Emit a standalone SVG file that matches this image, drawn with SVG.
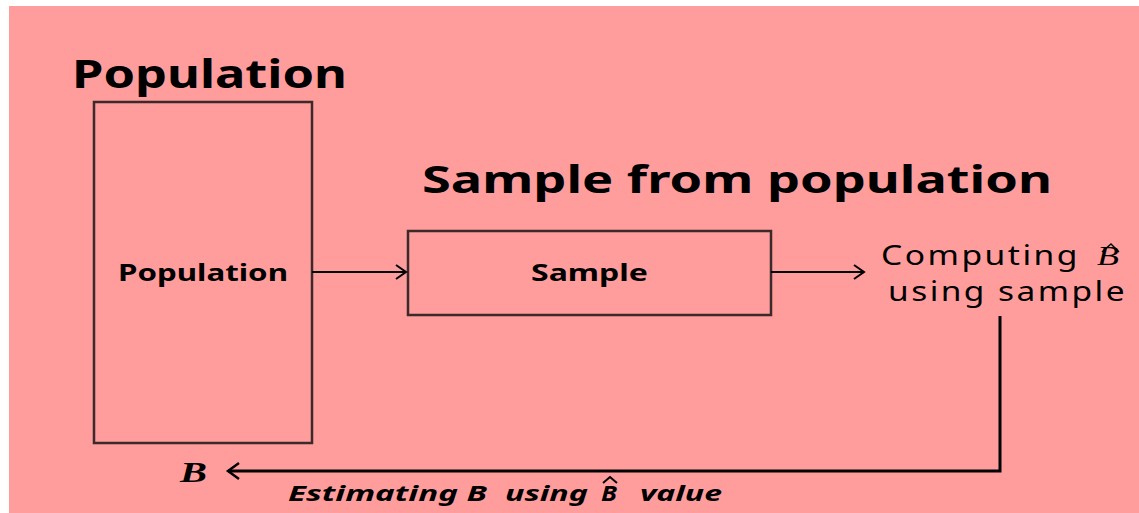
<svg xmlns="http://www.w3.org/2000/svg" width="1139" height="513" viewBox="0 0 1139 513">
<style>
.box{fill:none;stroke:#3a2a2a;stroke-width:2.5}
.t{font-family:"Noto Sans","Open Sans","Liberation Sans",sans-serif;fill:#000}
.b{font-weight:bold}
.ln{stroke:#000;fill:none}
.hat{fill:none;stroke:#000}
</style>
<defs>
<marker id="ah" markerWidth="14" markerHeight="18" refX="11" refY="9" orient="auto" markerUnits="userSpaceOnUse">
<path d="M1,2 L11,9 L1,16" fill="none" stroke="#000" stroke-width="2"/>
</marker>
<marker id="ah2" markerWidth="16" markerHeight="20" refX="13" refY="10" orient="auto" markerUnits="userSpaceOnUse">
<path d="M2,2 L13,10 L2,18" fill="none" stroke="#000" stroke-width="2.5"/>
</marker>
</defs>
<rect x="9" y="6" width="1130" height="507" fill="#ff9d9d"/>
<text class="t b" x="72" y="88" font-size="40" textLength="275" lengthAdjust="spacingAndGlyphs">Population</text>
<text class="t b" x="422" y="193" font-size="37" textLength="630" lengthAdjust="spacingAndGlyphs">Sample from population</text>
<g id="population">
<rect class="box" x="94" y="102" width="218" height="341"/>
<text class="t b" x="118" y="281" font-size="23" textLength="170" lengthAdjust="spacingAndGlyphs">Population</text>
</g>
<g id="sample">
<rect class="box" x="408" y="231" width="363" height="84"/>
<text class="t b" x="531" y="281" font-size="23" textLength="117" lengthAdjust="spacingAndGlyphs">Sample</text>
</g>
<g id="computing">
<text class="t" x="881" y="265" font-size="27" letter-spacing="2" textLength="199" lengthAdjust="spacingAndGlyphs">Computing</text>
<text x="1097" y="265" font-size="28" font-family="Liberation Serif,serif" font-style="italic" textLength="22" lengthAdjust="spacingAndGlyphs">B</text>
<path class="hat" d="M1102,252 L1111,244 L1119,252" stroke-width="1.4"/>
<text class="t" x="888" y="301" font-size="27" letter-spacing="2" textLength="239" lengthAdjust="spacingAndGlyphs">using sample</text>
</g>
<g id="B">
<text x="180" y="482" font-size="30" font-family="Liberation Serif,serif" font-style="italic" font-weight="bold" textLength="27" lengthAdjust="spacingAndGlyphs">B</text>
</g>
<g id="connectors">
<line class="ln" x1="312" y1="272" x2="406" y2="272" stroke-width="2" marker-end="url(#ah)"/>
<line class="ln" x1="771" y1="272" x2="864" y2="272" stroke-width="2" marker-end="url(#ah)"/>
<polyline class="ln" points="1000,316 1000,471 228,471" stroke-width="3" marker-end="url(#ah2)"/>
</g>
<g id="estimating-label">
<text class="t b" x="288" y="501" font-size="21" font-style="italic" textLength="199" lengthAdjust="spacingAndGlyphs">Estimating B</text>
<text class="t b" x="505" y="501" font-size="21" font-style="italic" textLength="83" lengthAdjust="spacingAndGlyphs">using</text>
<text class="t b" x="601" y="501" font-size="21" font-style="italic" textLength="16" lengthAdjust="spacingAndGlyphs">B</text>
<path class="hat" d="M603,483 L610,477 L617,483" stroke-width="2"/>
<text class="t b" x="640" y="501" font-size="21" font-style="italic" textLength="82" lengthAdjust="spacingAndGlyphs">value</text>
</g>
</svg>
